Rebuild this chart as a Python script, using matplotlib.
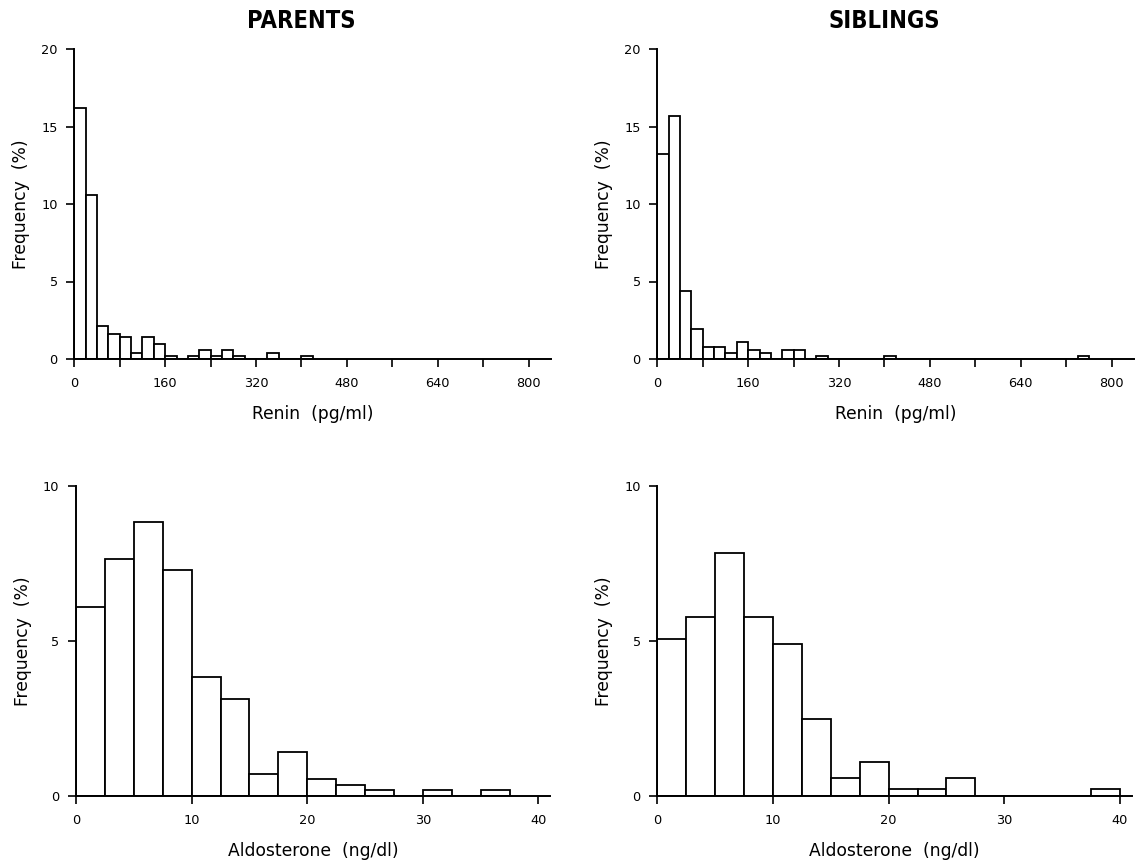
import numpy as np
import matplotlib
matplotlib.use("Agg")
import matplotlib.pyplot as plt
from matplotlib.ticker import MultipleLocator

# ---------------- data ----------------
renin_bin_width = 20
aldo_bin_width = 2.5

# Parents, renin (pg/ml), bins of 20 starting at 0
parents_renin_freq = [16.2, 10.6, 2.15, 1.6, 1.45, 0.4, 1.45, 0.95, 0.2, 0.0,
                      0.2, 0.55, 0.2, 0.55, 0.2, 0.0, 0.0, 0.4, 0.0, 0.0, 0.2]
# Siblings, renin (pg/ml), bins of 20 starting at 0
siblings_renin_freq = [13.2, 15.65, 4.4, 1.95, 0.75, 0.75, 0.4, 1.1, 0.55, 0.4,
                       0.0, 0.55, 0.55, 0.0, 0.2, 0.0, 0.0, 0.0, 0.0, 0.0,
                       0.2, 0.0, 0.0, 0.0, 0.0, 0.0, 0.0, 0.0, 0.0, 0.0,
                       0.0, 0.0, 0.0, 0.0, 0.0, 0.0, 0.0, 0.2]
# Parents, aldosterone (ng/dl), bins of 2.5 starting at 0
parents_aldo_freq = [6.08, 7.64, 8.85, 7.29, 3.82, 3.12, 0.70, 1.40, 0.53, 0.34,
                     0.17, 0.0, 0.17, 0.0, 0.17]
# Siblings, aldosterone (ng/dl), bins of 2.5 starting at 0
siblings_aldo_freq = [5.07, 5.76, 7.83, 5.76, 4.90, 2.47, 0.57, 1.08, 0.22, 0.22,
                      0.57, 0.0, 0.0, 0.0, 0.0, 0.22]

renin_major_ticks = [0, 160, 320, 480, 640, 800]
aldo_ticks = [0, 10, 20, 30, 40]
titles = ["PARENTS", "SIBLINGS"]
renin_label = "Renin  (pg/ml)"
aldo_label = "Aldosterone  (ng/dl)"
freq_label = "Frequency  (%)"

# ---------------- figure ----------------
W, H = 1136, 866
fig = plt.figure(figsize=(W / 100, H / 100), dpi=100)

tick_font = dict(family="DejaVu Sans", size=9.3)
lab_font = dict(family="DejaVu Sans", size=12.3)
title_font = dict(family="DejaVu Sans", size=17, weight="bold", stretch="condensed")


def px_axes(left, bottom_px, right, top_px):
    # coordinates given in pixels from top-left
    return fig.add_axes([left / W, (H - bottom_px) / H, (right - left) / W, (bottom_px - top_px) / H])


def style(ax):
    for s in ("top", "right"):
        ax.spines[s].set_visible(False)
    for s in ("left", "bottom"):
        ax.spines[s].set_linewidth(1.4)
    ax.tick_params(which="both", direction="out", length=6, width=1.2)
    ax.tick_params(axis="x", which="both", pad=7)
    ax.tick_params(axis="y", which="both", pad=6)
    for lbl in ax.get_xticklabels() + ax.get_yticklabels():
        lbl.set_fontfamily(tick_font["family"])
        lbl.set_fontsize(tick_font["size"])


def hist(ax, freqs, bw):
    lefts = np.arange(len(freqs)) * bw
    ax.bar(lefts, freqs, width=bw, align="edge", facecolor="white",
           edgecolor="black", linewidth=1.3, zorder=2)


panels = [
    (74.3, 359, 551.3, 49, parents_renin_freq, renin_bin_width, "renin", 0),
    (657.3, 359, 1134.3, 49, siblings_renin_freq, renin_bin_width, "renin", 1),
    (76, 795.7, 550, 486, parents_aldo_freq, aldo_bin_width, "aldo", 0),
    (657.3, 795.7, 1131.5, 486, siblings_aldo_freq, aldo_bin_width, "aldo", 1),
]

for left, bot, right, top, freqs, bw, kind, col in panels:
    ax = px_axes(left, bot, right, top)
    hist(ax, freqs, bw)
    if kind == "renin":
        ax.set_xlim(0, 840)
        ax.set_ylim(0, 20)
        ax.set_xticks(renin_major_ticks)
        ax.xaxis.set_minor_locator(MultipleLocator(80))
        ax.set_yticks([0, 5, 10, 15, 20])
        ax.set_xlabel(renin_label, labelpad=11, **lab_font)
        ax.set_title(titles[col], x=400 / 840, pad=15, **title_font)
    else:
        ax.set_xlim(0, 41)
        ax.set_ylim(0, 10)
        ax.set_xticks(aldo_ticks)
        ax.set_yticks([0, 5, 10])
        ax.set_xlabel(aldo_label, labelpad=11, **lab_font)
    ax.set_ylabel(freq_label, labelpad=8, **lab_font)
    ax.spines["left"].set_bounds(0, ax.get_ylim()[1])
    style(ax)

fig.savefig("out.png", dpi=100)
